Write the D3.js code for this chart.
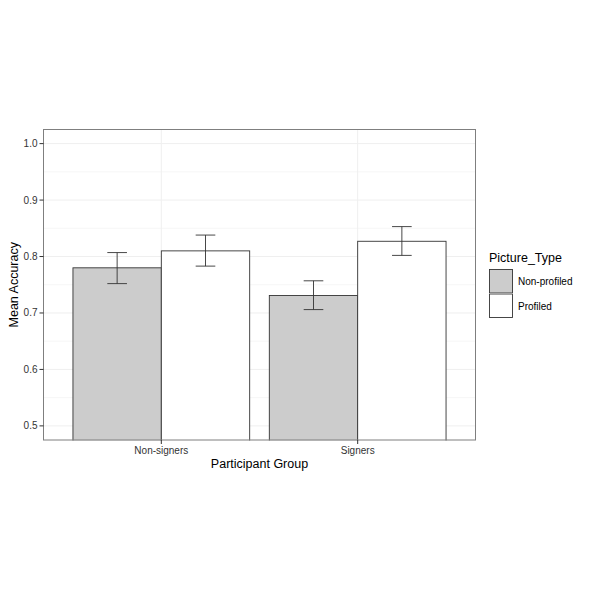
<!DOCTYPE html>
<html><head><meta charset="utf-8">
<script src="https://cdn.jsdelivr.net/npm/d3@7"></script>
<style>body{margin:0;background:#fff}svg{display:block}text{font-family:"Liberation Sans",Arial,sans-serif}</style>
</head><body>
<svg id="c" width="600" height="600"></svg>
<script>
const groups = ["Non-signers", "Signers"];
const types = ["Non-profiled", "Profiled"];
const means = [[0.780, 0.810], [0.731, 0.827]];
const lower = [[0.752, 0.783], [0.706, 0.802]];
const upper = [[0.807, 0.838], [0.757, 0.853]];
const yTicks = [0.5, 0.6, 0.7, 0.8, 0.9, 1.0];
const yMinor = [0.55, 0.65, 0.75, 0.85, 0.95];
const fills = ["#cccccc", "#ffffff"];

const svg = d3.select("#c");
const L = 43.5, R = 475.5, T = 129.5, B = 440;
const y = d3.scaleLinear().domain([0.475, 1.025]).range([B, T]);
const x = d3.scaleLinear().domain([0.4, 2.6]).range([L, R]);
const unit = x(1) - x(0);

svg.append("rect").attr("x", L).attr("y", T).attr("width", R - L).attr("height", B - T).attr("fill", "#fff");
const g = svg.append("g");
yMinor.forEach(v => g.append("line").attr("x1", L).attr("x2", R).attr("y1", y(v)).attr("y2", y(v)).attr("stroke", "#f4f4f4").attr("stroke-width", 0.8));
yTicks.forEach(v => g.append("line").attr("x1", L).attr("x2", R).attr("y1", y(v)).attr("y2", y(v)).attr("stroke", "#efefef").attr("stroke-width", 1));
groups.forEach((gr, i) => g.append("line").attr("x1", x(i + 1)).attr("x2", x(i + 1)).attr("y1", T).attr("y2", B).attr("stroke", "#efefef"));

// bars
groups.forEach((gr, i) => {
  types.forEach((t, j) => {
    const x0 = x(i + 1 - 0.45 + j * 0.45), x1 = x(i + 1 + j * 0.45);
    g.append("rect").attr("x", x0).attr("y", y(means[i][j])).attr("width", x1 - x0)
      .attr("height", B + 2 - y(means[i][j])).attr("fill", fills[j]).attr("stroke", "#333").attr("stroke-width", 0.9);
  });
});
// clip bottom overflow
svg.append("rect").attr("x", 0).attr("y", B + 0.5).attr("width", 600).attr("height", 10).attr("fill", "#fff");
// error bars
groups.forEach((gr, i) => {
  types.forEach((t, j) => {
    const cx = x(i + 1 - 0.225 + j * 0.45), hw = 0.05 * unit;
    const e = g.append("g").attr("stroke", "#333").attr("stroke-width", 0.9);
    e.append("line").attr("x1", cx).attr("x2", cx).attr("y1", y(lower[i][j])).attr("y2", y(upper[i][j]));
    e.append("line").attr("x1", cx - hw).attr("x2", cx + hw).attr("y1", y(lower[i][j])).attr("y2", y(lower[i][j]));
    e.append("line").attr("x1", cx - hw).attr("x2", cx + hw).attr("y1", y(upper[i][j])).attr("y2", y(upper[i][j]));
  });
});
svg.append("rect").attr("x", L).attr("y", T).attr("width", R - L).attr("height", B - T).attr("fill", "none").attr("stroke", "#7f7f7f").attr("stroke-width", 1);

// y axis
const ya = svg.append("g");
yTicks.forEach(v => {
  ya.append("line").attr("x1", L - 4).attr("x2", L).attr("y1", y(v)).attr("y2", y(v)).attr("stroke", "#333");
  ya.append("text").attr("x", L - 6).attr("y", y(v)).attr("dy", "0.35em").attr("text-anchor", "end")
    .attr("font-size", 10).attr("fill", "#333").text(v.toFixed(1));
});
groups.forEach((gr, i) => {
  svg.append("line").attr("x1", x(i + 1)).attr("x2", x(i + 1)).attr("y1", B).attr("y2", B + 4).attr("stroke", "#333");
  svg.append("text").attr("x", x(i + 1)).attr("y", B + 14).attr("text-anchor", "middle").attr("font-size", 10).attr("fill", "#333").text(gr);
});
svg.append("text").attr("x", (L + R) / 2).attr("y", 468).attr("text-anchor", "middle").attr("font-size", 12.5).text("Participant Group");
svg.append("text").attr("transform", `translate(18,${(T + B) / 2}) rotate(-90)`).attr("text-anchor", "middle").attr("font-size", 12.5).text("Mean Accuracy");

// legend
svg.append("text").attr("x", 489).attr("y", 262).attr("font-size", 12.5).text("Picture_Type");
types.forEach((t, j) => {
  const ky = 269 + j * 24.5;
  svg.append("rect").attr("x", 489).attr("y", ky).attr("width", 24).attr("height", 24.5).attr("fill", "#f2f2f2").attr("stroke", "#fff");
  svg.append("rect").attr("x", 489.5).attr("y", ky + 0.5).attr("width", 23).attr("height", 23.5).attr("fill", fills[j]).attr("stroke", "#333").attr("stroke-width", 0.9);
  svg.append("text").attr("x", 518).attr("y", ky + 12.5).attr("dy", "0.35em").attr("font-size", 10).text(t);
});
</script>
</body></html>
